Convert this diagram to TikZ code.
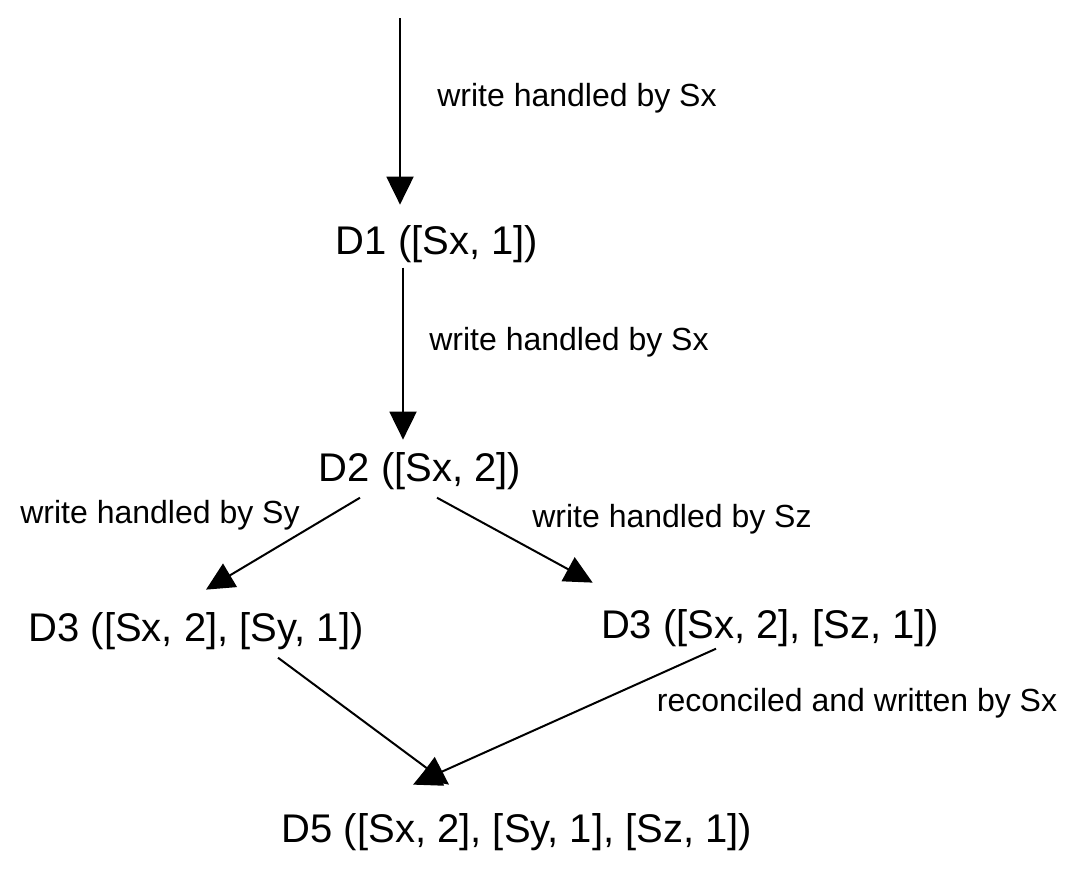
\documentclass[tikz,border=0pt]{standalone}
\usepackage{fontspec}
\setmainfont{Liberation Sans}
\usetikzlibrary{arrows.meta}
\usetikzlibrary{calc}

\begin{document}
\begin{tikzpicture}[
    x=0.5pt, y=-0.5pt,
    conn/.style={-{Triangle[length=14pt,width=13.5pt]}, line width=1pt},
    version/.style={anchor=base, inner sep=0pt, font=\fontsize{20}{24}\selectfont},
    edge label/.style={anchor=base, inner sep=0pt, font=\fontsize{16}{19}\selectfont},
    ]

    % frame
    \useasboundingbox (0,0) rectangle (1079,869);
    % versions
    \node[version] (d1) at (437,254) {D1 ([Sx, 1])};
    \node[version] (d2) at (420,481) {D2 ([Sx, 2])};
    \node[version] (d3y) at (196,641) {D3 ([Sx, 2], [Sy, 1])};
    \node[version] (d3z) at (770,638) {D3 ([Sx, 2], [Sz, 1])};
    \node[version] (d5) at (517,842) {D5 ([Sx, 2], [Sy, 1], [Sz, 1])};
    % incoming write
    \coordinate (start) at (400,18);
    % writes
    \draw[conn] (start) -- ($(d1.north)+(-37,-20)$);
    \draw[conn] ($(d1.south)+(-34,5)$) -- ($(d2.north)+(-17,-12)$);
    \draw[conn] ($(d2.south)+(-60,8)$) -- ($(d3y.north)+(10,-22)$);
    \draw[conn] ($(d2.south)+(17,8)$) -- ($(d3z.north west)+(-8,-26)$);
    % reconcile (the two heads cross)
    \draw[conn] ($(d3y.south)+(82,8)$) -- ($(d5.north)+(-68,-28)$);
    \draw[conn] ($(d3z.south)+(-54,2)$) -- ($(d5.north)+(-104,-28)$);
    % labels
    \node[edge label] (l1) at (577,106) {write handled by Sx};
    \node[edge label] (l2) at (569,350) {write handled by Sx};
    \node[edge label] (l3) at (160,523) {write handled by Sy};
    \node[edge label] (l4) at (672,527) {write handled by Sz};
    \node[edge label] (l5) at (857,711) {reconciled and written by Sx};
\end{tikzpicture}
\end{document}
